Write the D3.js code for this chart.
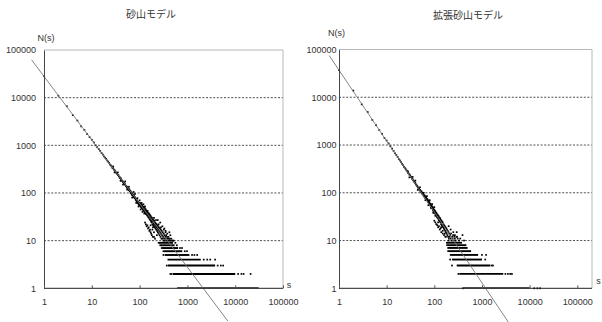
<!DOCTYPE html>
<html><head><meta charset="utf-8">
<script src="https://cdn.jsdelivr.net/npm/d3@7"></script>
<style>body{margin:0;background:#fff}svg{display:block}</style>
</head><body>
<svg id="c" width="602" height="322"></svg>
<script>
// ---- data ----
const titles = ["砂山モデル", "拡張砂山モデル"];
const axisTicks = [1, 10, 100, 1000, 10000, 100000];
const tickLabels = ["1", "10", "100", "1000", "10000", "100000"];

// 砂山モデル: [s, N(s)]
const leftPoints = [[1,28500],[2,11000],[3,6600],[4,4300],[5,3300],[6,2500],[7,2100],[8,1720],[9,1480],[10,1310],
[11,1150],[12,1000],[13,910],[14,830],[15,760],[16,690],[17,640],[18,585],[19,550],[20,520],[21,480],[22,455],[23,430],
[24,395],[25,380],[26,360],[27,335],[28,330],[29,310],[30,300],[31,285],[32,270],[33,262],[34,250],[35,240],[36,236],
[37,222],[38,218],[39,205],[40,206],[41,196],[42,188],[43,180],[44,178],[45,170],[46,168],[47,158],[48,160],[49,150],
[50,152],[52,140],[53,138],[54,130],[55,134],[56,124],[57,126],[58,118],[59,122],[60,115],[61,118],[62,110],[63,108],
[64,112],[65,100],[66,104],[67,98],[68,102],[69,92],[70,97],[71,90],[72,94],[73,88],[74,86],[75,90],[76,82],[77,85],
[78,79],[79,83],[80,78],[82,76],[83,72],[84,75],[85,70],[86,73],[87,66],[88,70],[89,64],[90,68],[92,62],[93,65],[94,60],
[95,63],[96,57],[97,61],[98,56],[99,59],[100,58],[101,62],[102,54],[104,57],[105,52],[106,60],[108,50],[109,55],[110,53],
[112,48],[113,56],[115,46],[116,51],[118,44],[119,50],[120,47],[122,52],[123,42],[125,45],[126,49],[128,40],[130,44],
[131,38],[133,46],[135,41],[136,36],[138,43],[140,37],[141,40],[143,34],[145,39],[147,42],[148,33],[150,36],[152,31],
[154,38],[155,34],[157,30],[159,36],[160,32],[162,28],[164,35],[166,31],[168,27],[170,33],[172,29],[174,25],[176,31],
[178,27],[180,24],[182,30],[184,26],[186,22],[188,28],[190,25],[192,21],[195,27],[197,23],[200,20],[202,26],[205,22],
[207,19],[210,24],[213,21],[215,18],[218,23],[220,20],[223,17],[226,22],[229,19],[232,16],[235,21],[238,18],[241,15],
[244,20],[247,17],[250,14],[254,19],[258,16],[262,13],[266,18],[270,15],[274,12],[278,17],[282,14],[286,11],[290,16],
[295,13],[300,11],[305,15],[310,12],[315,10],[320,14],[326,11],[332,13],[338,10],[345,12],[352,11],[360,13],[368,10],
[375,12],[384,11],[392,10],[400,12],[410,11],[420,10],[430,11],[445,10],[460,11],[480,10],[500,10],[515,10],
[240,27],[270,24],[300,20],[330,18],[350,16],[380,14],[420,15],[440,13],[185,17],[200,15],[230,13],[170,21],[190,19],
[130,24],[135,22],[140,20],[145,21],[150,18],[155,19],[160,16],[165,17],[170,15],[175,14],[180,13],[190,12],[200,12],[210,11],
[200,30],[220,27],[250,22],[280,19],[320,17],[350,15],[70,80],[75,105],[80,95],[85,62],[90,78],[95,52],[100,70],[105,45],
[110,62],[115,40],[120,58],[125,37],[130,52],[45,150],[50,175],[55,118],[60,135],[35,270],[40,180],[28,360],[30,270]];
// 砂山モデル rows of integer N: [N, s from, s to]
const leftRows = [[9,255,500],[8,275,540],[7,295,640],[6,325,780],[5,335,1100],[4,410,1900],[3,390,3800],[2,500,10000],[1,610,31000]];
// 砂山モデル isolated points in the rows: [s, N]
const leftSparse = [[250,9],[560,9],[270,8],[600,8],[290,7],[700,7],[770,7],[315,6],[880,6],[980,6],[315,5],[1250,5],[1400,5],[1600,5],
[400,4],[2200,4],[2600,4],[3000,4],[3800,4],[370,3],[4300,3],[5000,3],[5600,3],[440,2],[470,2],[11500,2],[13500,2],[15000,2],[21000,2]];
// 砂山モデル fitted line: [s, N] at the two ends
const leftLine = [[0.55, 62100], [7000, 0.206]];

// 拡張砂山モデル: [s, N(s)]
const rightPoints = [[1,37000],[2,13800],[3,7100],[4,4900],[5,3350],[6,2600],[7,2050],[8,1720],[9,1400],[10,1240],
[11,1080],[12,940],[13,840],[14,750],[15,670],[16,615],[17,560],[18,505],[19,475],[20,440],[21,405],[22,380],[23,350],
[24,335],[25,315],[26,296],[27,282],[28,262],[29,252],[30,240],[31,232],[32,218],[33,212],[34,198],[35,194],[36,182],
[37,178],[38,168],[39,164],[40,158],[41,150],[42,146],[43,140],[44,137],[45,130],[46,128],[47,122],[48,120],[49,114],
[50,115],[51,108],[52,110],[53,102],[54,106],[55,97],[56,100],[57,93],[58,96],[59,88],[60,90],[61,84],[62,88],[63,80],
[64,85],[65,78],[66,81],[67,74],[68,78],[69,71],[70,74],[72,68],[73,72],[74,64],[75,68],[76,62],[77,66],[78,59],[79,63],
[80,58],[82,55],[83,59],[84,52],[85,56],[86,50],[87,54],[88,48],[89,52],[90,47],[92,50],[93,44],[94,48],[95,42],[96,46],
[97,40],[98,44],[99,39],[100,43],[102,38],[103,42],[105,36],[106,40],[108,34],[109,38],[111,33],[112,37],[114,31],
[115,35],[117,30],[118,34],[120,29],[122,33],[124,27],[125,31],[127,26],[129,30],[131,25],[133,29],[135,24],[137,27],
[139,22],[141,26],[143,21],[145,25],[148,20],[150,24],[153,19],[155,22],[158,18],[160,21],[163,17],[166,20],[169,16],
[172,19],[175,15],[178,18],[181,14],[184,17],[188,13],[191,16],[195,12],[198,15],[202,11],[206,14],[210,12],[215,13],
[220,11],[225,14],[230,10],[236,12],[242,11],[248,13],[255,10],[262,12],[270,11],[280,10],[290,12],[295,15],[310,11],
[330,10],[350,11],[390,13],[420,10],[150,16],[140,19],[165,14],[120,24],[175,12],[200,10],
[100,26],[105,24],[110,22],[115,21],[120,19],[125,20],[130,17],[135,18],[140,15],[150,14],[160,13],[170,12],
[200,20],[220,17],[250,15],[270,13],[300,12],[60,100],[65,70],[70,85],[75,55],[80,70],[85,48],[90,58],[95,38],[100,50],[105,33],
[40,180],[45,115],[50,130],[35,215],[30,210],[28,280]];
// 拡張砂山モデル rows of integer N: [N, s from, s to]
const rightRows = [[9,185,380],[8,190,470],[7,200,500],[6,200,590],[5,225,830],[4,235,1000],[3,295,1500],[2,335,2800],[1,410,10000]];
// 拡張砂山モデル isolated points in the rows: [s, N]
const rightSparse = [[183,9],[185,8],[195,7],[195,6],[220,5],[1000,5],[1220,5],[215,4],[1170,4],[235,3],[1600,3],[1700,3],
[320,2],[3100,2],[3500,2],[3900,2],[4250,2],[400,1],[12500,1],[14500,1],[16600,1]];
// 拡張砂山モデル fitted line: [s, N] at the two ends
const rightLine = [[0.625, 74200], [3800, 0.179]];

// ---- drawing ----
const svg = d3.select("#c");
svg.append("rect").attr("width", 602).attr("height", 322).attr("fill", "#fff");
const FONT = "'Liberation Sans', Arial, sans-serif";
const JFONT = "'Noto Sans CJK JP', sans-serif";

const panels = [
  {title: titles[0], pts: leftPoints, rows: leftRows, sparse: leftSparse, line: leftLine,
   x0: 44, x1: 283, xEdge: 283, yTop: 50, yBot: 288.3, titleX: 151, titleY: 15,
   labelRight: 36, nsX: 46, nsY: 39, sX: 289, sY: 286},
  {title: titles[1], pts: rightPoints, rows: rightRows, sparse: rightSparse, line: rightLine,
   x0: 339, x1: 577.3, xEdge: 592, yTop: 49.5, yBot: 288.3, titleX: 468, titleY: 16,
   labelRight: 336.5, nsX: 336.5, nsY: 34, sX: 598.5, sY: 282}
];

panels.forEach((p, idx) => {
  const x = d3.scaleLog().domain([1, 100000]).range([p.x0, p.x1]);
  const y = d3.scaleLog().domain([1, 100000]).range([p.yBot, p.yTop]);
  const g = svg.append("g");

  // title
  g.append("text").attr("x", p.titleX).attr("y", p.titleY).attr("text-anchor", "middle")
    .attr("dominant-baseline", "middle").attr("font-family", JFONT).attr("font-size", 10)
    .attr("fill", "#333").text(p.title);

  // grid lines
  g.selectAll(".grid").data(axisTicks.slice(1, 5)).join("line")
    .attr("x1", p.x0).attr("x2", p.xEdge).attr("y1", d => y(d)).attr("y2", d => y(d))
    .attr("stroke", "#222").attr("stroke-width", 0.8).attr("stroke-dasharray", "2,1.6");
  // top & right border
  g.append("line").attr("x1", p.x0).attr("x2", p.xEdge).attr("y1", y(100000)).attr("y2", y(100000))
    .attr("stroke", "#b8b8b8").attr("stroke-width", 1);
  g.append("line").attr("x1", p.xEdge).attr("x2", p.xEdge).attr("y1", y(100000)).attr("y2", y(1))
    .attr("stroke", "#b8b8b8").attr("stroke-width", 1);

  // rows
  g.selectAll(".row").data(p.rows).join("line")
    .attr("x1", d => x(d[1])).attr("x2", d => x(d[2])).attr("y1", d => y(d[0]) - (d[0] === 1 ? 0.6 : 0)).attr("y2", d => y(d[0]) - (d[0] === 1 ? 0.6 : 0))
    .attr("stroke", d => d[0] === 1 ? "#555" : "#000").attr("stroke-width", d => d[0] === 1 ? 1.4 : 1.9);
  // points
  g.selectAll(".pt").data(p.pts.concat(p.sparse)).join("rect")
    .attr("x", d => x(d[0]) - 0.85).attr("y", d => y(d[1]) - 0.85)
    .attr("width", 1.7).attr("height", 1.7).attr("fill", "#000");

  // fitted line
  g.append("line").attr("x1", x(p.line[0][0])).attr("y1", y(p.line[0][1]))
    .attr("x2", x(p.line[1][0])).attr("y2", y(p.line[1][1]))
    .attr("stroke", "#777").attr("stroke-width", 0.9);

  // y axis
  const ya = g.append("g").attr("transform", `translate(${p.x0},0)`)
    .call(d3.axisLeft(y).tickValues(axisTicks).tickFormat((d, i) => tickLabels[i]).tickSize(0).tickPadding(p.x0 - p.labelRight));
  ya.select(".domain").attr("stroke", "#444").attr("stroke-width", 1);
  ya.selectAll("text").attr("font-family", FONT).attr("font-size", 9).attr("fill", "#333");

  // x axis
  const xa = g.append("g").attr("transform", `translate(0,${p.yBot})`)
    .call(d3.axisBottom(x).tickValues(axisTicks).tickFormat((d, i) => tickLabels[i]).tickSizeInner(-3).tickSizeOuter(0).tickPadding(10));
  xa.select(".domain").attr("d", `M${p.x0},0H${p.xEdge}`).attr("stroke", "#222").attr("stroke-width", 1);
  xa.selectAll(".tick line").attr("stroke", "#555");
  xa.selectAll("text").attr("font-family", FONT).attr("font-size", 9).attr("fill", "#333");

  // axis titles
  g.append("text").attr("x", p.nsX).attr("y", p.nsY).attr("text-anchor", "middle").attr("dominant-baseline", "middle")
    .attr("font-family", FONT).attr("font-size", 9).attr("fill", "#333").text("N(s)");
  g.append("text").attr("x", p.sX).attr("y", p.sY).attr("text-anchor", "middle").attr("dominant-baseline", "middle")
    .attr("font-family", FONT).attr("font-size", 9).attr("fill", "#333").text("s");
});
</script>
</body></html>
